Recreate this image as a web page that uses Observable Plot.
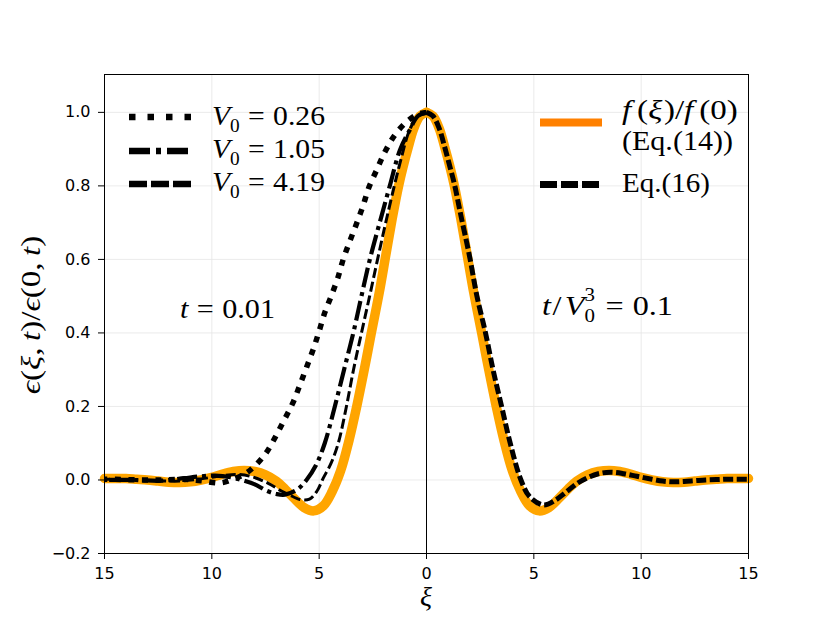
<!DOCTYPE html>
<html><head><meta charset="utf-8">
<script src="https://cdn.jsdelivr.net/npm/d3@7"></script>
<script src="https://cdn.jsdelivr.net/npm/@observablehq/plot@0.6"></script>
<style>body{margin:0;background:#fff}#chart{position:relative;width:830px;height:623px}
#over{position:absolute;left:0;top:0;pointer-events:none}</style>
</head><body><div id="chart"></div>
<script>
// f(xi)/f(0) (Eq.14), symmetric, xi >= 0
const fXi  = [0, 0.3, 0.6, 0.85, 1.1, 1.3, 1.6, 1.9, 2.2, 2.57, 2.9, 3.25, 3.6, 4.0, 4.4, 4.8, 5.25, 5.7, 6.2, 6.6, 7.0, 7.5, 8.0, 8.5, 9.0, 9.5, 10.0, 10.5, 11.0, 11.5, 12.0, 12.5, 13.0, 13.5, 14.0, 14.5, 15.0];
const fVal = [1.0, 0.99, 0.955, 0.905, 0.85, 0.80, 0.71, 0.61, 0.51, 0.40, 0.30, 0.20, 0.11, 0.025, -0.032, -0.07, -0.084, -0.075, -0.048, -0.024, -0.003, 0.014, 0.023, 0.026, 0.023, 0.016, 0.007, 0.0, -0.005, -0.007, -0.006, -0.003, 0.0, 0.002, 0.004, 0.004, 0.004];
// Eq.(16), right side
const eq16Xi  = [0, 0.3, 0.6, 0.85, 1.1, 1.3, 1.6, 2.0, 2.35, 2.75, 3.1, 3.5, 3.9, 4.4, 4.8, 5.45, 6.0, 6.5, 7.0, 7.5, 8.0, 8.57, 9.2, 9.8, 10.5, 11.0, 11.5, 12.0, 12.5, 13.0, 13.5, 14.0, 15.0];
const eq16Val = [1.0, 0.99, 0.955, 0.905, 0.85, 0.805, 0.72, 0.61, 0.50, 0.40, 0.30, 0.20, 0.10, 0.0, -0.045, -0.068, -0.055, -0.033, -0.01, 0.006, 0.017, 0.021, 0.017, 0.01, 0.002, -0.003, -0.005, -0.004, -0.002, 0.0, 0.001, 0.002, 0.002];
// t = 0.01, left side (|xi|)
const v026Xi  = [0, 0.39, 0.93, 1.48, 1.94, 2.33, 2.69, 2.95, 3.26, 3.57, 3.88, 4.13, 4.44, 4.74, 5.0, 5.28, 5.59, 5.9, 6.23, 6.63, 7.03, 7.49, 8.07, 8.5, 8.93, 9.6, 10.5, 11.4, 12.3, 13.3, 14.5, 15.0];
const v026Val = [1.0, 0.995, 0.974, 0.938, 0.892, 0.842, 0.795, 0.747, 0.697, 0.65, 0.60, 0.55, 0.50, 0.455, 0.405, 0.355, 0.306, 0.258, 0.209, 0.163, 0.118, 0.072, 0.034, 0.015, 0.004, -0.008, -0.002, 0.002, 0.0, 0.0, 0.002, 0.002];
const v105Xi  = [0, 0.4, 0.8, 1.24, 1.71, 2.18, 2.64, 3.03, 3.41, 3.84, 4.27, 4.74, 5.15, 5.59, 6.0, 6.6, 7.0, 7.42, 8.0, 8.5, 9.08, 9.86, 10.5, 11.28, 12.35, 13.6, 15.0];
const v105Val = [1.0, 0.99, 0.95, 0.897, 0.80, 0.70, 0.60, 0.50, 0.40, 0.30, 0.20, 0.10, 0.04, 0.0, -0.025, -0.04, -0.038, -0.03, -0.012, -0.002, 0.007, 0.012, 0.01, 0.005, -0.002, 0.0, 0.0];
const v419Xi  = [0, 0.4, 0.8, 1.2, 1.5, 1.9, 2.28, 2.65, 3.03, 3.4, 3.73, 4.11, 4.45, 4.81, 5.1, 5.45, 5.9, 6.4, 6.76, 7.37, 8.15, 8.8, 9.5, 10.5, 11.5, 12.5, 13.5, 15.0];
const v419Val = [1.0, 0.99, 0.95, 0.87, 0.80, 0.70, 0.60, 0.50, 0.40, 0.30, 0.20, 0.10, 0.045, 0.005, -0.03, -0.052, -0.053, -0.04, -0.03, -0.009, 0.009, 0.015, 0.012, 0.003, -0.003, -0.002, 0.0, 0.002];

const xTicks = [-15, -10, -5, 0, 5, 10, 15];
const yTicks = [-0.2, 0.0, 0.2, 0.4, 0.6, 0.8, 1.0];

const side = (xs, vs, sign) => xs.map((x, i) => ({x: sign * x, y: vs[i]}));
const fLeft = side(fXi, fVal, -1), fRight = side(fXi, fVal, 1);
const eq16 = side(eq16Xi, eq16Val, 1);
const v026 = side(v026Xi, v026Val, -1);
const v105 = side(v105Xi, v105Val, -1);
const v419 = side(v419Xi, v419Val, -1);

const lineOpts = {x: "x", y: "y", curve: "catmull-rom", strokeLinecap: "butt", strokeLinejoin: "round"};

const chart = Plot.plot({
  width: 830, height: 623,
  marginLeft: 104, marginRight: 82, marginTop: 74, marginBottom: 70,
  style: {fontFamily: "DejaVu Sans", fontSize: "16px", background: "#fff", color: "#000"},
  x: {domain: [-15, 15]},
  y: {domain: [-0.2, 1.103]},
  marks: [
    Plot.gridX(xTicks, {stroke: "#e6e6e6", strokeOpacity: 1, strokeWidth: 0.8}),
    Plot.gridY(yTicks, {stroke: "#e6e6e6", strokeOpacity: 1, strokeWidth: 0.8}),
    Plot.ruleX([0], {stroke: "#000", strokeWidth: 1}),
    Plot.line(fLeft, {...lineOpts, stroke: "orange", strokeWidth: 9.5, strokeLinecap: "round"}),
    Plot.line(fRight, {...lineOpts, stroke: "orange", strokeWidth: 9.5, strokeLinecap: "round"}),
    Plot.line(v419, {...lineOpts, stroke: "#000", strokeWidth: 3, strokeDasharray: "10,4"}),
    Plot.line(v105, {...lineOpts, stroke: "#000", strokeWidth: 4.2, strokeDasharray: "20,5,4,5"}),
    Plot.line(v026, {...lineOpts, stroke: "#000", strokeWidth: 5.5, strokeDasharray: "6,7.5"}),
    Plot.line(eq16, {...lineOpts, stroke: "#000", strokeWidth: 5, strokeDasharray: "10,3.5"}),
    Plot.frame({stroke: "#000", strokeWidth: 1}),
    Plot.axisX({ticks: xTicks, tickFormat: d => String(Math.abs(d)), tickSize: 6, tickPadding: 8, label: null}),
    Plot.axisY({ticks: yTicks, tickFormat: d3.format(".1f"), tickSize: 6, tickPadding: 8, label: null})
  ]
});
const host = document.getElementById("chart");
host.appendChild(chart);

// overlay for legend, annotations and math-style labels
const over = d3.select(host).append("svg").attr("id", "over")
  .attr("width", 830).attr("height", 623).attr("viewBox", "0 0 830 623");
const SERIF = "Liberation Serif";

// lays out math runs as separate <text> elements (no tspans)
function math(parent, x, y, parts, size, opts = {}) {
  const g = parent.append("g");
  let cx = 0, subX = null, subEnd = 0;
  for (const [s, kind] of parts) {
    if (kind === "gap") { cx += s * size; continue; }
    let dy = 0, fs = size, px = cx;
    if (kind === "sub") { dy = size * 0.25; fs = size * 0.65; subX = cx; }
    if (kind === "sup") { dy = -size * 0.5; fs = size * 0.65; if (subX !== null) px = subX; }
    const t = g.append("text").attr("x", px).attr("y", dy)
      .attr("font-family", SERIF).attr("font-size", fs).attr("fill", "#000")
      .attr("font-style", kind === "i" ? "italic" : "normal").text(s);
    const w = t.node().getComputedTextLength();
    if (kind === "sub") { subEnd = px + w; cx = subEnd; }
    else if (kind === "sup" && subX !== null) { cx = Math.max(subEnd, px + w); subX = null; }
    else cx = px + w;
  }
  let k = 1;
  if (opts.width) k = Math.max(0.9, Math.min(1.18, opts.width / cx));
  const off = opts.anchor === "middle" ? -cx / 2 : 0;
  g.attr("transform", (opts.pre || `translate(${x},${y})`) + ` scale(${k},1) translate(${off},0)`);
  return g;
}
const EQ = [[0.28, "gap"], ["=", "r"], [0.28, "gap"]];

// left legend
const legL = [
  {y: 117, base: 125, dash: "6.5,12", label: "0.26"},
  {y: 151, base: 158, dash: "21,6,5,6", label: "1.05"},
  {y: 184, base: 191, dash: "18,4", label: "4.19"}
];
for (const d of legL) {
  over.append("line").attr("x1", 129).attr("x2", 191).attr("y1", d.y).attr("y2", d.y)
    .attr("stroke", "#000").attr("stroke-width", 6.5).attr("stroke-dasharray", d.dash);
  math(over, 212, d.base, [["V", "i"], ["0", "sub"], ...EQ, [d.label, "r"]], 28, {width: 113});
}
// right legend
over.append("line").attr("x1", 540).attr("x2", 602).attr("y1", 122.5).attr("y2", 122.5)
  .attr("stroke", "#ff8000").attr("stroke-width", 8);
over.append("line").attr("x1", 540).attr("x2", 600).attr("y1", 184.5).attr("y2", 184.5)
  .attr("stroke", "#000").attr("stroke-width", 7).attr("stroke-dasharray", "17,4");
math(over, 622, 119, [["f", "i"], [0.18, "gap"], ["(", "r"], ["ξ", "i"], [0.05, "gap"], [")/", "r"], ["f", "i"], [0.18, "gap"], ["(0)", "r"]], 28, {width: 116});
math(over, 622, 150, [["(Eq.(14))", "r"]], 28, {width: 111});
math(over, 622, 192, [["Eq.(16)", "r"]], 28, {width: 88});

// annotations
math(over, 180, 318, [["t", "i"], ...EQ, ["0.01", "r"]], 28, {width: 95});
math(over, 542, 315, [["t", "i"], [0.05, "gap"], ["/", "r"], [0.1, "gap"], ["V", "i"], ["0", "sub"], ["3", "sup"], [0.05, "gap"], ...EQ, ["0.1", "r"]], 28, {width: 131});

// axis labels
math(over, 426, 606, [["ξ", "i"]], 28, {anchor: "middle"});
math(over, 0, 0, [["ϵ", "i"], ["(", "r"], ["ξ", "i"], [",", "r"], [0.2, "gap"], ["t", "i"], [")/", "r"], ["ϵ", "i"], ["(0,", "r"], [0.2, "gap"], ["t", "i"], [")", "r"]], 28,
  {anchor: "middle", width: 192, pre: "translate(40,315) rotate(-90)"});
</script>
</body></html>
